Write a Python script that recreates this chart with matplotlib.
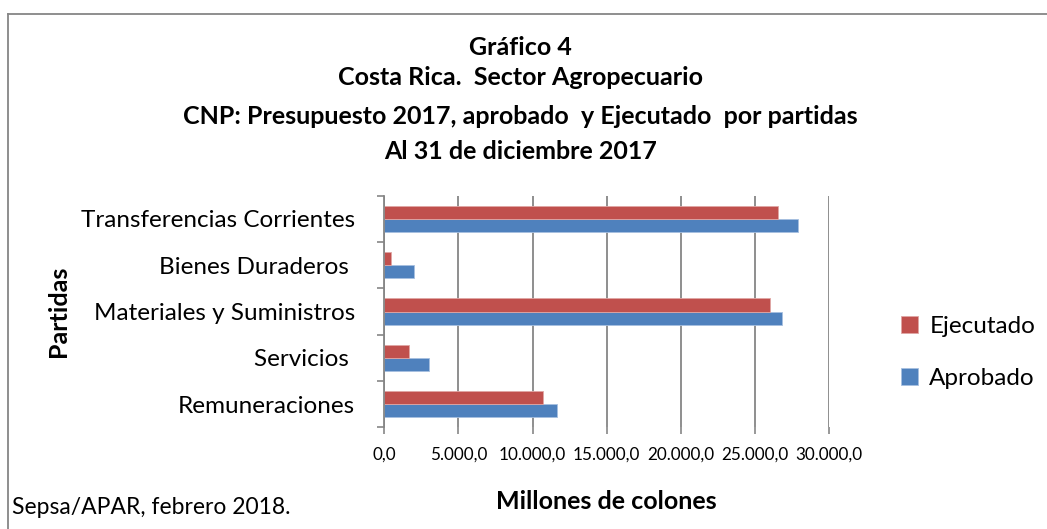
import numpy as np
import matplotlib.pyplot as plt
from matplotlib.lines import Line2D
from matplotlib.ticker import FuncFormatter

plt.rcParams['font.family'] = ['Lato', 'DejaVu Sans']

# Data (millones de colones)
partidas = ['Remuneraciones', 'Servicios ', 'Materiales y Suministros',
            'Bienes Duraderos ', 'Transferencias Corrientes']
aprobado = [11670, 2990, 26840, 2020, 27920]
ejecutado = [10700, 1640, 26000, 430, 26570]

col_ej = '#C0504D'
col_ap = '#4F81BD'

fig = plt.figure(figsize=(10.47, 5.29), dpi=100)
ax = fig.add_axes([0.367, 0.192, 0.425, 0.438])

y = np.arange(len(partidas))
h = 0.285
ax.barh(y - h / 2, aprobado, height=h, color=col_ap, label='Aprobado',
        edgecolor='#A7C0E0', linewidth=0.6)
ax.barh(y + h / 2, ejecutado, height=h, color=col_ej, label='Ejecutado',
        edgecolor='#E0A6A4', linewidth=0.6)

ax.set_xlim(0, 30000)
ax.set_ylim(-0.5, len(partidas) - 0.5)
ax.set_xticks(np.arange(0, 30001, 5000))
ax.xaxis.set_major_formatter(FuncFormatter(
    lambda v, p: f'{v:,.1f}'.replace(',', 'X').replace('.', ',').replace('X', '.')))
ax.set_yticks(y)
ax.set_yticklabels(partidas, fontsize=17.5)
ax.set_yticks(np.arange(-0.5, len(partidas)), minor=True)
ax.tick_params(axis='y', which='major', length=0, pad=21)
ax.tick_params(axis='y', which='minor', length=5, color='#868686', width=1.2)
ax.tick_params(axis='x', length=5, color='#868686', width=1.2, labelsize=12.3, pad=9)

ax.grid(axis='x', color='#868686', linewidth=1.3)
ax.set_axisbelow(True)
for s in ['top', 'right', 'bottom']:
    ax.spines[s].set_visible(False)
ax.spines['left'].set_color('#868686')
ax.spines['left'].set_linewidth(1.3)

ax.set_xlabel('Millones de colones', fontsize=18, fontweight='bold')
ax.xaxis.set_label_coords(0.498, -0.271)
ax.set_ylabel('Partidas', fontsize=18, fontweight='bold')
ax.yaxis.set_label_coords(-0.707, 0.5)

handles, labels = ax.get_legend_handles_labels()
fig.legend(handles[::-1], labels[::-1], loc='center left',
           bbox_to_anchor=(0.840, 0.333), frameon=False, fontsize=17.5,
           handlelength=0.7, handleheight=0.7, handletextpad=0.45,
           labelspacing=1.27)

titulo = ['Gráfico 4', 'Costa Rica.  Sector Agropecuario',
          'CNP: Presupuesto 2017, aprobado  y Ejecutado  por partidas',
          'Al 31 de diciembre 2017']
ys = [0.911, 0.853, 0.780, 0.713]
for t, yy in zip(titulo, ys):
    fig.text(0.497, yy, t, ha='center', va='center', fontsize=18,
             fontweight='bold')

fig.text(0.011, 0.04, 'Sepsa/APAR, febrero 2018.', ha='left', va='center',
         fontsize=16.5)

# chart frame (top and left edges visible in the reference)
fig.add_artist(Line2D([0.0075, 1.0], [0.974, 0.974], color='#868686', lw=1.3,
                      transform=fig.transFigure))
fig.add_artist(Line2D([0.0075, 0.0075], [0.0, 0.974], color='#868686', lw=1.3,
                      transform=fig.transFigure))

fig.savefig('out.png', dpi=100)
